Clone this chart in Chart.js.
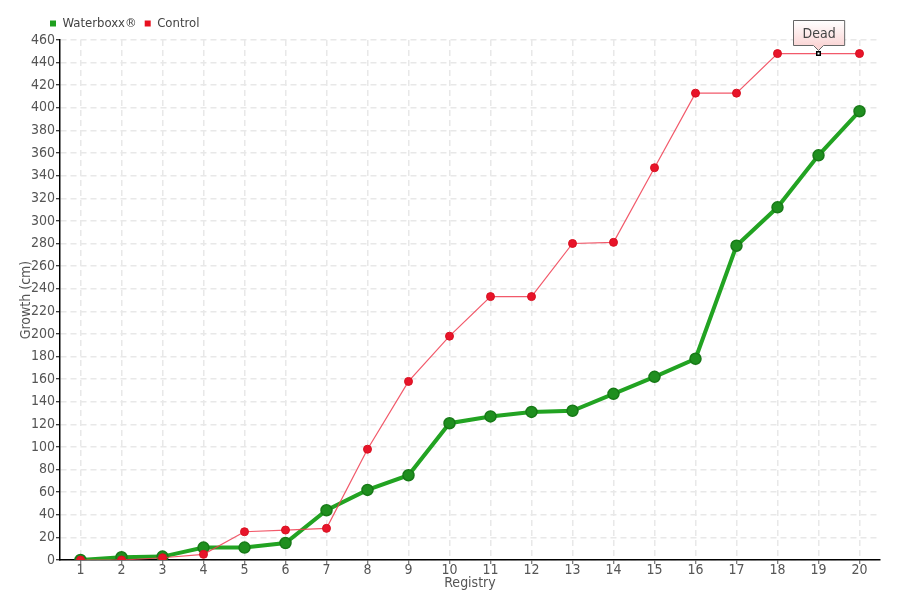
<!DOCTYPE html>
<html><head><meta charset="utf-8">
<script src="https://cdn.jsdelivr.net/npm/chart.js@4"></script>
<style>html,body{margin:0;padding:0;background:#fff}#wrap{width:900px;height:600px}</style>
</head><body><div id="wrap"><canvas id="c" width="900" height="600"></canvas></div>
<script>
const categories = ['1','2','3','4','5','6','7','8','9','10','11','12','13','14','15','16','17','18','19','20'];
const waterboxx = [0, 2.5, 3, 11, 11, 15, 44, 62, 75, 121, 127, 131, 132, 147, 162, 178, 278, 312, 358, 397];
const control = [0, 0, 2, 5, 25, 26.5, 28, 98, 158, 198, 233, 233, 280, 281, 347, 413, 413, 448, 448, 448];
const yTicks = [0,20,40,60,80,100,120,140,160,180,200,220,240,260,280,300,320,340,360,380,400,420,440,460];
const deadIndex = 18;
const deadLabel = 'Dead';

const FAMILY = '"DejaVu Sans Condensed","DejaVu Sans",sans-serif';
const STRETCH = 'condensed';
Chart.defaults.font.family = FAMILY;
Chart.defaults.font.weight = STRETCH;
Chart.defaults.color = '#555';

const legendShift = {
  id: 'legendShift',
  afterLayout(chart) {
    if (chart.legend) { chart.legend.left += 26; }
  }
};

const tipPlugin = {
  id: 'deadTip',
  afterDatasetsDraw(chart) {
    const meta = chart.getDatasetMeta(1);
    const el = meta.data[deadIndex];
    if (!el) return;
    const ctx = chart.ctx;
    const px = el.x, py = el.y;
    ctx.save();
    ctx.font = STRETCH + ' 14px ' + FAMILY;
    const tw = ctx.measureText(deadLabel).width;
    const w = tw + 18, h = 25;
    const x0 = Math.round(px - w / 2) + 0.5, y1 = Math.round(py - 9) + 0.5, y0 = y1 - h;
    const g = ctx.createLinearGradient(0, y0, 0, y1);
    g.addColorStop(0, '#ffffff');
    g.addColorStop(1, '#fbd6d6');
    ctx.beginPath();
    ctx.moveTo(x0, y0);
    ctx.lineTo(x0 + w, y0);
    ctx.lineTo(x0 + w, y1);
    ctx.lineTo(px + 5, y1);
    ctx.lineTo(px, y1 + 5);
    ctx.lineTo(px - 5, y1);
    ctx.lineTo(x0, y1);
    ctx.closePath();
    ctx.fillStyle = g;
    ctx.fill();
    ctx.strokeStyle = '#666';
    ctx.lineWidth = 1;
    ctx.stroke();
    ctx.fillStyle = '#444';
    ctx.textAlign = 'center';
    ctx.textBaseline = 'middle';
    ctx.fillText(deadLabel, x0 + w / 2, y0 + h / 2 + 1);
    ctx.restore();
  }
};

new Chart(document.getElementById('c'), {
  type: 'line',
  data: {
    labels: categories,
    datasets: [
      {
        label: 'Waterboxx®',
        data: waterboxx,
        borderColor: '#22a322',
        backgroundColor: '#1fa01f',
        pointBackgroundColor: '#1f8f1f',
        pointBorderColor: '#177a17',
        pointBorderWidth: 1.5,
        pointRadius: 5.5,
        borderWidth: 4,
        tension: 0,
        order: 2
      },
      {
        label: 'Control',
        data: control,
        borderColor: 'rgba(240,60,80,0.85)',
        backgroundColor: '#e8101f',
        pointBackgroundColor: control.map((v, i) => i === deadIndex ? '#ffffff' : '#e8142a'),
        pointBorderColor: control.map((v, i) => i === deadIndex ? '#000000' : '#d8101f'),
        pointBorderWidth: control.map((v, i) => i === deadIndex ? 1.5 : 1),
        pointStyle: control.map((v, i) => i === deadIndex ? 'rect' : 'circle'),
        pointRadius: control.map((v, i) => i === deadIndex ? 2.5 : 4),
        borderWidth: 1.2,
        tension: 0,
        order: 1
      }
    ]
  },
  options: {
    responsive: false,
    animation: false,
    layout: { padding: { left: 16, right: 20, top: 9, bottom: 8 } },
    plugins: {
      tooltip: { enabled: false },
      legend: {
        display: true,
        align: 'start',
        labels: {
          boxWidth: 6, boxHeight: 6, padding: 8,
          font: { size: 13 }, color: '#444',
          generateLabels(chart) {
            return chart.data.datasets.map((d, i) => ({
              text: d.label, fillStyle: d.backgroundColor, strokeStyle: d.backgroundColor,
              lineWidth: 0, datasetIndex: i, fontColor: '#444'
            }));
          }
        }
      }
    },
    scales: {
      x: {
        offset: true,
        afterFit(scale) { scale.height = 32; },
        grid: { offset: false, color: '#e8e8e8', lineWidth: 1.5, tickLength: 4, tickColor: '#555', tickBorderDash: [], tickWidth: 1 },
        border: { color: '#000', width: 1.5, dash: [6, 4] },
        ticks: { font: { size: 14 }, color: '#555', padding: -2, maxRotation: 0, autoSkip: false },
        title: { display: true, text: 'Registry', font: { size: 14 }, color: '#555', padding: { top: 0, bottom: 0 } }
      },
      y: {
        min: 0, max: 460,
        afterFit(scale) { scale.width = 44; },
        afterBuildTicks(scale) { scale.ticks = yTicks.map(v => ({ value: v })); },
        grid: { color: '#e8e8e8', lineWidth: 1.5, tickLength: 4, tickColor: '#000', tickBorderDash: [], tickWidth: 1 },
        border: { color: '#000', width: 1.5, dash: [6, 4] },
        ticks: { font: { size: 14 }, color: '#555', padding: 1 },
        title: { display: true, text: 'Growth (cm)', font: { size: 14 }, color: '#555', padding: { top: 2, bottom: 0 } }
      }
    }
  },
  plugins: [tipPlugin, legendShift]
});
</script>
</body></html>
